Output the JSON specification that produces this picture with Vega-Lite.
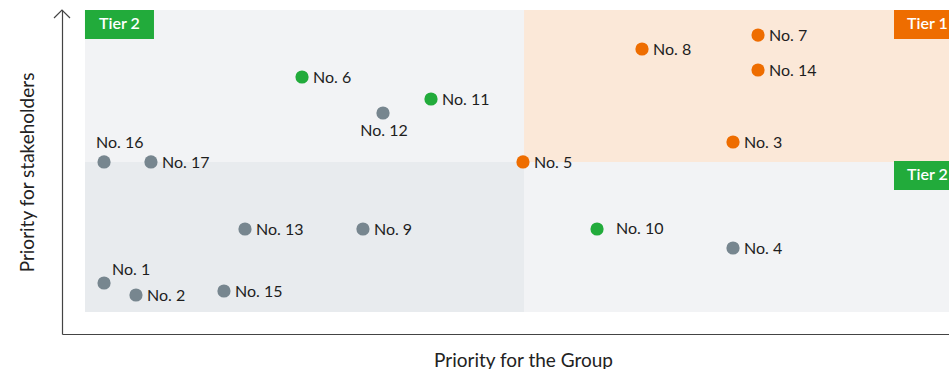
{
  "$schema": "https://vega.github.io/schema/vega-lite/v6.json",
  "width": 887,
  "height": 324,
  "autosize": {"type": "none"},
  "padding": {"left": 62, "top": 10, "right": 0, "bottom": 35},
  "background": "white",
  "config": {
    "view": {"stroke": null},
    "font": "Lato",
    "text": {"font": "Lato"}
  },
  "datasets": {
    "zones": [
      {"kind": "light", "x0": 2.59, "x1": 52.09, "y0": 53.09, "y1": 100},
      {"kind": "dark", "x0": 2.59, "x1": 52.09, "y0": 6.79, "y1": 53.09},
      {"kind": "orange", "x0": 52.09, "x1": 100, "y0": 53.09, "y1": 100},
      {"kind": "light", "x0": 52.09, "x1": 100, "y0": 6.79, "y1": 53.09},
      {"kind": "tag2", "x0": 2.59, "x1": 10.37, "y0": 91.05, "y1": 100},
      {"kind": "tag1", "x0": 93.8, "x1": 100, "y0": 91.05, "y1": 100},
      {"kind": "tag2", "x0": 93.8, "x1": 100, "y0": 44.44, "y1": 53.4}
    ],
    "tags": [
      {"tag": "Tier 2", "x": 6.48, "y": 95.6, "side": "left"},
      {"tag": "Tier 1", "x": 95.27, "y": 95.6, "side": "right"},
      {"tag": "Tier 2", "x": 95.27, "y": 48.95, "side": "right"}
    ],
    "items": [
      {"name": "No. 6", "x": 27.06, "y": 79.32, "tier": "Tier 2"},
      {"name": "No. 11", "x": 41.6, "y": 72.53, "tier": "Tier 2"},
      {"name": "No. 12", "x": 36.19, "y": 68.21, "tier": "Other"},
      {"name": "No. 16", "x": 4.74, "y": 53.09, "tier": "Other"},
      {"name": "No. 17", "x": 10.03, "y": 53.09, "tier": "Other"},
      {"name": "No. 5", "x": 51.97, "y": 53.09, "tier": "Tier 1"},
      {"name": "No. 8", "x": 65.39, "y": 87.96, "tier": "Tier 1"},
      {"name": "No. 7", "x": 78.47, "y": 92.28, "tier": "Tier 1"},
      {"name": "No. 14", "x": 78.47, "y": 81.48, "tier": "Tier 1"},
      {"name": "No. 3", "x": 75.65, "y": 59.26, "tier": "Tier 1"},
      {"name": "No. 13", "x": 20.63, "y": 32.41, "tier": "Other"},
      {"name": "No. 9", "x": 33.93, "y": 32.41, "tier": "Other"},
      {"name": "No. 10", "x": 60.32, "y": 32.41, "tier": "Tier 2"},
      {"name": "No. 4", "x": 75.65, "y": 26.54, "tier": "Other"},
      {"name": "No. 1", "x": 4.74, "y": 15.74, "tier": "Other"},
      {"name": "No. 2", "x": 8.34, "y": 12.04, "tier": "Other"},
      {"name": "No. 15", "x": 18.26, "y": 13.27, "tier": "Other"}
    ],
    "origin": [{"x": 0, "y": 100}]
  },
  "encoding": {
    "x": {
      "field": "x",
      "type": "quantitative",
      "scale": {"domain": [0, 100], "nice": false, "zero": false},
      "axis": {
        "title": "Priority for the Group",
        "titleX": 461,
        "titlePadding": 17,
        "titleFontSize": 19,
        "titleFontWeight": "normal",
        "titleColor": "#222222",
        "titleFont": "Lato",
        "domainColor": "#444444",
        "domainWidth": 1.2,
        "ticks": false,
        "labels": false,
        "grid": false
      }
    },
    "y": {
      "field": "y",
      "type": "quantitative",
      "scale": {"domain": [0, 100], "nice": false, "zero": false},
      "axis": {
        "title": "Priority for stakeholders",
        "titlePadding": 25,
        "titleFontSize": 19,
        "titleFontWeight": "normal",
        "titleColor": "#222222",
        "titleFont": "Lato",
        "domainColor": "#444444",
        "domainWidth": 1.2,
        "ticks": false,
        "labels": false,
        "grid": false
      }
    }
  },
  "layer": [
    {
      "data": {"name": "zones"},
      "mark": {"type": "rect"},
      "encoding": {
        "x": {"field": "x0", "type": "quantitative"},
        "x2": {"field": "x1"},
        "y": {"field": "y0", "type": "quantitative"},
        "y2": {"field": "y1"},
        "fill": {
          "field": "kind",
          "type": "nominal",
          "legend": null,
          "scale": {
            "domain": ["light", "dark", "orange", "tag1", "tag2"],
            "range": ["#f2f3f5", "#e8ebee", "#fbe8d8", "#ee6d00", "#22ab3b"]
          }
        }
      }
    },
    {
      "data": {"name": "tags"},
      "transform": [{"filter": "datum.side === 'left'"}],
      "mark": {"type": "text", "align": "center", "baseline": "middle", "color": "white", "fontSize": 16, "fontWeight": 600},
      "encoding": {"text": {"field": "tag"}}
    },
    {
      "data": {"name": "tags"},
      "transform": [{"filter": "datum.side === 'right'"}],
      "mark": {"type": "text", "align": "left", "baseline": "middle", "color": "white", "fontSize": 16, "fontWeight": 600},
      "encoding": {"text": {"field": "tag"}}
    },
    {
      "data": {"name": "origin"},
      "mark": {"type": "point", "shape": "M-1,1L0,0L1,1", "filled": false, "size": 256, "stroke": "#444444", "strokeWidth": 1.2, "opacity": 1}
    },
    {
      "data": {"name": "items"},
      "mark": {"type": "point", "filled": true, "size": 175, "opacity": 1},
      "encoding": {
        "color": {
          "field": "tier",
          "type": "nominal",
          "legend": null,
          "scale": {"domain": ["Tier 1", "Tier 2", "Other"], "range": ["#ee6d00", "#22ab3b", "#77868f"]}
        }
      }
    },
    {
      "data": {"name": "items"},
      "transform": [{"filter": "indexof(['No. 12','No. 16','No. 1','No. 10'], datum.name) < 0"}],
      "mark": {"type": "text", "align": "left", "baseline": "middle", "dx": 11, "dy": 1, "fontSize": 16, "color": "#1e1e1e"},
      "encoding": {"text": {"field": "name"}}
    },
    {
      "data": {"name": "items"},
      "transform": [{"filter": "datum.name === 'No. 10'"}],
      "mark": {"type": "text", "align": "left", "baseline": "middle", "dx": 19, "dy": 0, "fontSize": 16, "color": "#1e1e1e"},
      "encoding": {"text": {"field": "name"}}
    },
    {
      "data": {"name": "items"},
      "transform": [{"filter": "datum.name === 'No. 12'"}],
      "mark": {"type": "text", "align": "center", "baseline": "middle", "dx": 1, "dy": 18, "fontSize": 16, "color": "#1e1e1e"},
      "encoding": {"text": {"field": "name"}}
    },
    {
      "data": {"name": "items"},
      "transform": [{"filter": "datum.name === 'No. 16'"}],
      "mark": {"type": "text", "align": "left", "baseline": "middle", "dx": -8, "dy": -19, "fontSize": 16, "color": "#1e1e1e"},
      "encoding": {"text": {"field": "name"}}
    },
    {
      "data": {"name": "items"},
      "transform": [{"filter": "datum.name === 'No. 1'"}],
      "mark": {"type": "text", "align": "left", "baseline": "middle", "dx": 8, "dy": -13, "fontSize": 16, "color": "#1e1e1e"},
      "encoding": {"text": {"field": "name"}}
    }
  ]
}
